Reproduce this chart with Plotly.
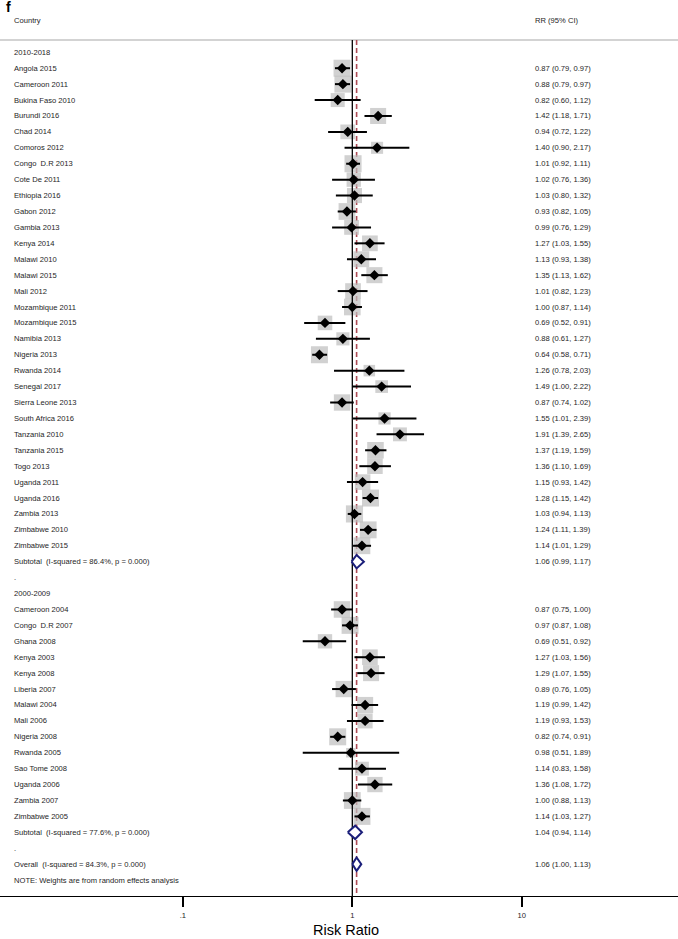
import plotly.graph_objects as go

# ---------------- data ----------------
g1_labels = ["Angola 2015", "Cameroon 2011", "Bukina Faso 2010", "Burundi 2016", "Chad 2014",
             "Comoros 2012", "Congo  D.R 2013", "Cote De 2011", "Ethiopia 2016", "Gabon 2012",
             "Gambia 2013", "Kenya 2014", "Malawi 2010", "Malawi 2015", "Mali 2012",
             "Mozambique 2011", "Mozambique 2015", "Namibia 2013", "Nigeria 2013", "Rwanda 2014",
             "Senegal 2017", "Sierra Leone 2013", "South Africa 2016", "Tanzania 2010", "Tanzania 2015",
             "Togo 2013", "Uganda 2011", "Uganda 2016", "Zambia 2013", "Zimbabwe 2010", "Zimbabwe 2015"]
g1_rr = [0.87, 0.88, 0.82, 1.42, 0.94, 1.40, 1.01, 1.02, 1.03, 0.93, 0.99, 1.27, 1.13, 1.35, 1.01,
         1.00, 0.69, 0.88, 0.64, 1.26, 1.49, 0.87, 1.55, 1.91, 1.37, 1.36, 1.15, 1.28, 1.03, 1.24, 1.14]
g1_lo = [0.79, 0.79, 0.60, 1.18, 0.72, 0.90, 0.92, 0.76, 0.80, 0.82, 0.76, 1.03, 0.93, 1.13, 0.82,
         0.87, 0.52, 0.61, 0.58, 0.78, 1.00, 0.74, 1.01, 1.39, 1.19, 1.10, 0.93, 1.15, 0.94, 1.11, 1.01]
g1_hi = [0.97, 0.97, 1.12, 1.71, 1.22, 2.17, 1.11, 1.36, 1.32, 1.05, 1.29, 1.55, 1.38, 1.62, 1.23,
         1.14, 0.91, 1.27, 0.71, 2.03, 2.22, 1.02, 2.39, 2.65, 1.59, 1.69, 1.42, 1.42, 1.13, 1.39, 1.29]
g1_w = [2.68, 2.68, 1.82, 2.38, 2.03, 1.35, 2.70, 1.91, 2.10, 2.61, 2.03, 2.29, 2.33, 2.39, 2.30,
        2.57, 1.97, 1.60, 2.68, 1.23, 1.49, 2.48, 1.38, 1.79, 2.54, 2.25, 2.26, 2.68, 2.72, 2.65, 2.61]

g2_labels = ["Cameroon 2004", "Congo  D.R 2007", "Ghana 2008", "Kenya 2003", "Kenya 2008",
             "Liberia 2007", "Malawi 2004", "Mali 2006", "Nigeria 2008", "Rwanda 2005",
             "Sao Tome 2008", "Uganda 2006", "Zambia 2007", "Zimbabwe 2005"]
g2_rr = [0.87, 0.97, 0.69, 1.27, 1.29, 0.89, 1.19, 1.19, 0.82, 0.98, 1.14, 1.36, 1.00, 1.14]
g2_lo = [0.75, 0.87, 0.51, 1.03, 1.07, 0.76, 0.99, 0.93, 0.74, 0.51, 0.83, 1.08, 0.88, 1.03]
g2_hi = [1.00, 1.08, 0.92, 1.56, 1.55, 1.05, 1.42, 1.53, 0.91, 1.89, 1.58, 1.72, 1.13, 1.27]
g2_w = [2.54, 2.67, 1.90, 2.28, 2.38, 2.47, 2.39, 2.10, 2.68, 0.83, 1.79, 2.17, 2.61, 2.68]

group_titles = ["2010-2018", "2000-2009"]
sub_labels = ["Subtotal  (I-squared = 86.4%, p = 0.000)", "Subtotal  (I-squared = 77.6%, p = 0.000)"]
sub_rr = [1.06, 1.04]
sub_lo = [0.99, 0.94]
sub_hi = [1.17, 1.14]
overall_label = "Overall  (I-squared = 84.3%, p = 0.000)"
overall_rr, overall_lo, overall_hi = 1.06, 1.00, 1.13
note = "NOTE: Weights are from random effects analysis"
x_ticks = [0.1, 1, 10]
x_ticklabels = [".1", "1", "10"]

# ---------------- layout of rows ----------------
studies = []   # (row, label, rr, lo, hi, w)
pooled = []    # (row, label, rr, lo, hi)
plain = []     # (row, label)
row = 0
groups = [(g1_labels, g1_rr, g1_lo, g1_hi, g1_w), (g2_labels, g2_rr, g2_lo, g2_hi, g2_w)]
for gi, (lab, rr, lo, hi, w) in enumerate(groups):
    plain.append((row, group_titles[gi])); row += 1
    for i in range(len(lab)):
        studies.append((row, lab[i], rr[i], lo[i], hi[i], w[i])); row += 1
    pooled.append((row, sub_labels[gi], sub_rr[gi], sub_lo[gi], sub_hi[gi])); row += 1
    plain.append((row, ".")); row += 1
pooled.append((row, overall_label, overall_rr, overall_lo, overall_hi)); row += 1
plain.append((row, note)); row += 1
bottom_row = row  # axis line row

fmt = lambda a, b, c: f"{a:.2f} ({b:.2f}, {c:.2f})"
FONT = "Arial, Liberation Sans, sans-serif"
TXT = "#1e1e1e"
FS = 7.6
LAB_X = 11.7 / 678
RR_X = 533 / 678
SEP_ROW = -0.77

fig = go.Figure()

# squares (weights)
fig.add_trace(go.Scatter(
    x=[s[2] for s in studies], y=[s[0] for s in studies], mode="markers",
    marker=dict(symbol="square", color="#bdbdbd",
                size=[17 * (s[5] / 2.68) ** 0.5 for s in studies], line=dict(width=0)),
    hoverinfo="skip", showlegend=False))

# no-effect line at 1
fig.add_trace(go.Scatter(x=[1, 1], y=[SEP_ROW, bottom_row], mode="lines",
                         line=dict(color="black", width=1.3), hoverinfo="skip", showlegend=False))

# CI lines
cx, cy = [], []
for s in studies:
    cx += [s[3], s[4], None]
    cy += [s[0], s[0], None]
fig.add_trace(go.Scatter(x=cx, y=cy, mode="lines", line=dict(color="black", width=2),
                         hoverinfo="skip", showlegend=False))

# point estimates
fig.add_trace(go.Scatter(
    x=[s[2] for s in studies], y=[s[0] for s in studies], mode="markers",
    marker=dict(symbol="diamond", color="black", size=8, line=dict(width=0)),
    hoverinfo="skip", showlegend=False))

# pooled diamonds
H = 0.42
for p in pooled:
    r, _, est, lo, hi = p
    fig.add_trace(go.Scatter(x=[lo, est, hi, est, lo], y=[r, r - H, r, r + H, r],
                             mode="lines", fill="toself", fillcolor="white",
                             line=dict(color="#1b1f7a", width=2),
                             hoverinfo="skip", showlegend=False))

shapes = [
    dict(type="line", xref="x", yref="y", x0=overall_rr, x1=overall_rr, y0=SEP_ROW, y1=bottom_row,
         line=dict(color="#ad4b55", width=1.6, dash="5px,3px"), layer="below"),
    dict(type="line", xref="paper", yref="y", x0=0, x1=1, y0=SEP_ROW, y1=SEP_ROW,
         line=dict(color="#c4c4c4", width=1.5), layer="below"),
]

ann = []
def add_text(x, y, t, size=FS, xanchor="left", yref="y"):
    ann.append(dict(x=x, y=y, xref="paper", yref=yref, text=t,
                    showarrow=False, xanchor=xanchor, yanchor="middle",
                    font=dict(family=FONT, size=size, color=TXT)))

add_text(LAB_X, -2, "Country")
add_text(RR_X, -2, "RR (95% CI)")
for r, t in plain:
    add_text(LAB_X, r, t)
for s in studies:
    add_text(LAB_X, s[0], s[1])
    add_text(RR_X, s[0], fmt(s[2], s[3], s[4]))
for p in pooled:
    add_text(LAB_X, p[0], p[1])
    add_text(RR_X, p[0], fmt(p[2], p[3], p[4]))

# panel letter
ann.append(dict(x=4 / 678, y=-2.85, xref="paper", yref="y", text="<b>f</b>", showarrow=False,
                xanchor="left", yanchor="middle", font=dict(family=FONT, size=14, color="black")))
# axis title
ann.append(dict(x=345.5 / 678, y=-0.0478, xref="paper", yref="paper", text="Risk Ratio",
                showarrow=False, xanchor="center", yanchor="bottom", borderpad=0,
                font=dict(family=FONT, size=14.5, color="black")))

fig.update_layout(
    width=678, height=939,
    margin=dict(l=0, r=0, t=0, b=43),
    paper_bgcolor="white", plot_bgcolor="white",
    shapes=shapes, annotations=ann,
    xaxis=dict(type="log", range=[-2.0785, 1.9215], showgrid=False, zeroline=False,
               showline=True, linecolor="black", linewidth=1.3,
               ticks="outside", ticklen=10, tickwidth=2, tickcolor="black",
               tickvals=x_ticks, ticktext=x_ticklabels, ticklabelstandoff=2,
               tickfont=dict(family=FONT, size=FS, color=TXT), fixedrange=True),
    yaxis=dict(range=[bottom_row, -3.285], visible=False, fixedrange=True),
)

fig.write_html("out.html", config={"displayModeBar": False},
               post_script="document.body.style.margin='0';")
